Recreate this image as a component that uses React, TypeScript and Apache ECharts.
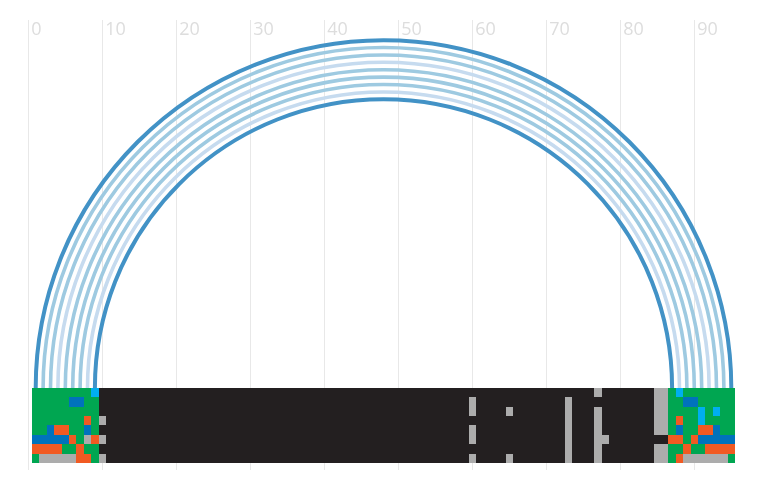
import React, { useEffect, useRef } from "react";
import * as echarts from "echarts";

// x-axis tick values shown along the top
const xTicks = [0, 10, 20, 30, 40, 50, 60, 70, 80, 90];

// arc rows (radius in x units) and their shade: 0 = dark, 1 = mid, 2 = light
const arcRadii = [47, 46, 45, 44, 43, 42, 41, 40, 39];
const arcShades = [0, 1, 1, 2, 1, 1, 1, 2, 0];
const arcCenter = [48, 0];

// cell colour codes: G green, C cyan, B blue, O orange, A gray, K dark
// left block: columns 0..9
const leftBlock = [
  "GGGGGGGGCK",
  "GGGGGBBGGK",
  "GGGGGGGGGK",
  "GGGGGGGOGA",
  "GGBOOGGBGK",
  "BBBBBOGAOA",
  "OOOOGGOGGK",
  "GAAAAAOOGA",
];
// right block: columns 84..94
const rightBlock = [
  "AAGCGGGGGGG",
  "AAGGBBGGGGG",
  "AAGGGGCGCGG",
  "AAGOGGCGGGG",
  "AAGBGGOOBGG",
  "KKOOGOBBBBB",
  "AAGGOGGOOOO",
  "AAGOAAAAAAG",
];
const rightStart = 84;
// gray marks in the dark middle: [column, row]
const midGray = [
  [59, 1], [59, 2], [59, 4], [59, 5], [59, 7],
  [64, 2], [64, 7],
  [72, 1], [72, 2], [72, 3], [72, 4], [72, 5], [72, 6], [72, 7],
  [76, 0], [76, 2], [76, 3], [76, 4], [76, 5], [76, 6], [76, 7],
  [77, 5],
];
const columnCount = 95;
const rowCount = 8;

const cellColors: Record<string, string> = {
  G: "#00a651",
  C: "#00aeef",
  B: "#0072bc",
  O: "#f15a22",
  A: "#acacac",
  K: "#231f20",
};
const arcColors = ["#4292c6", "#9ecae1", "#c6dbef"];

function buildCells() {
  const out: [number, number, string][] = [];
  const grayKey = new Set(midGray.map(([c, r]) => c + "_" + r));
  for (let r = 0; r < rowCount; r++) {
    for (let c = 0; c < columnCount; c++) {
      let code = "K";
      if (c < leftBlock[r].length) code = leftBlock[r][c];
      else if (c >= rightStart) code = rightBlock[r][c - rightStart];
      else if (grayKey.has(c + "_" + r)) code = "A";
      out.push([c + 1, r, code]);
    }
  }
  return out;
}

export default function App() {
  const ref = useRef<HTMLDivElement>(null);
  useEffect(() => {
    if (!ref.current) return;
    const chart = echarts.init(ref.current, null, { renderer: "svg" });
    const cells = buildCells();
    // one colour per split line: ticks 0..90 visible, the extra max line hidden
    const splitColors = xTicks.map(() => "#e8e8e8").concat(["rgba(0,0,0,0)"]);
    chart.setOption({
      animation: false,
      grid: { left: 28.3, right: 21.3, top: 20, bottom: 18 },
      xAxis: {
        type: "value",
        position: "top",
        min: 0,
        max: 96,
        interval: 10,
        axisLine: { show: false },
        axisTick: { show: false },
        axisLabel: {
          inside: true,
          margin: -1,
          align: "left",
          padding: [0, 0, 0, 3],
          color: "#dddddd",
          fontSize: 18,
          fontFamily: "Open Sans",
          formatter: (v: number) => (xTicks.includes(v) ? String(v) : ""),
        },
        splitLine: { show: true, lineStyle: { color: splitColors, width: 1 } },
      },
      yAxis: {
        type: "value",
        inverse: true,
        min: -39.25,
        max: 8.75,
        show: false,
        splitLine: { show: false },
      },
      series: [
        {
          type: "custom",
          clip: false,
          z: 2,
          data: arcRadii.map((r, i) => [arcCenter[0], arcCenter[1], r, arcShades[i]]),
          encode: { x: 0, y: 1 },
          renderItem: (params: any, api: any) => {
            const c = api.coord([api.value(0), api.value(1)]);
            const e = api.coord([api.value(0) + api.value(2), api.value(1)]);
            const shade = api.value(3);
            return {
              type: "arc",
              shape: {
                cx: c[0],
                cy: c[1],
                r: e[0] - c[0],
                startAngle: Math.PI,
                endAngle: 2 * Math.PI,
                clockwise: true,
              },
              style: {
                stroke: arcColors[shade],
                lineWidth: shade === 0 ? 4 : 3.6,
                fill: null,
              },
            };
          },
        },
        {
          type: "custom",
          clip: false,
          z: 3,
          data: cells,
          encode: { x: 0, y: 1 },
          renderItem: (params: any, api: any) => {
            const x = api.value(0);
            const y = api.value(1);
            const p1 = api.coord([x - 0.5, y]);
            const p2 = api.coord([x + 0.5, y + 1]);
            const x0 = Math.round(p1[0]);
            const x1 = Math.round(p2[0]);
            const y0 = Math.round(p1[1]);
            const y1 = Math.round(p2[1]);
            const col = cellColors[cells[params.dataIndex][2]];
            return {
              type: "rect",
              shape: { x: x0, y: y0, width: x1 - x0, height: y1 - y0 },
              style: { fill: col },
            };
          },
        },
      ],
    });
    return () => chart.dispose();
  }, []);
  return (
    <div
      ref={ref}
      style={{ position: "fixed", left: 0, top: 0, width: 760, height: 488 }}
    />
  );
}
